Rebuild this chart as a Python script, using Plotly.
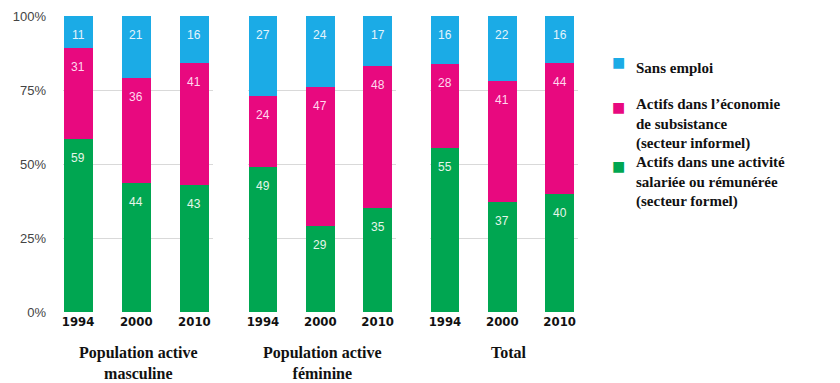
import plotly.graph_objects as go

# Répartition de la population active (%), par groupe et par année
years = ["1994", "2000", "2010"]
groups = ["Population active<br>masculine", "Population active<br>féminine", "Total"]

formel = [[59, 44, 43], [49, 29, 35], [55, 37, 40]]
informel = [[31, 36, 41], [24, 47, 48], [28, 41, 44]]
sans_emploi = [[11, 21, 16], [27, 24, 17], [16, 22, 16]]

series_names = [
    "Actifs dans une activité<br>salariée ou rémunérée<br>(secteur formel)",
    "Actifs dans l’économie<br>de subsistance<br>(secteur informel)",
    "Sans emploi",
]
series_data = [formel, informel, sans_emploi]
colors = ["#00a651", "#e8097f", "#1babe6"]
label_colors = ["#e6f5ea", "#ffd9ee", "#e3f4fc"]
y_ticks = ["0%", "25%", "50%", "75%", "100%"]

SERIF = "Liberation Serif"
SANS = "Liberation Sans"
COND = "DejaVu Sans Condensed"

W, H = 840, 383
TOP, BOTTOM = 16, 312
panel_px = [(63, 213), (248, 396), (430, 578)]
xrange_ = [-0.26, 2.32]


def py(yp):
    return (BOTTOM - yp) / (BOTTOM - TOP)


fig = go.Figure()
layout_axes = {}

for p in range(3):
    sfx = "" if p == 0 else str(p + 1)
    xa, ya = "x" + sfx, "y" + sfx
    totals = [sum(s[p][i] for s in series_data) for i in range(3)]
    cum = [0.0, 0.0, 0.0]
    for s, (data, col) in enumerate(zip(series_data, colors)):
        vals = data[p]
        fig.add_trace(go.Bar(
            x=[0, 1, 2], y=vals, xaxis=xa, yaxis=ya, width=0.5,
            marker=dict(color=col, line=dict(width=0)), showlegend=False,
        ))
        for i, v in enumerate(vals):
            cum[i] += v / totals[i] * 100
            fig.add_annotation(
                x=i, y=cum[i], xref=xa, yref=ya, text=str(v), showarrow=False,
                yanchor="top", yshift=-10,
                font=dict(family=SANS, size=12, color=label_colors[s]),
            )
    x0, x1 = panel_px[p]
    layout_axes["xaxis" + sfx] = dict(
        domain=[x0 / W, x1 / W], range=xrange_, anchor=ya,
        tickmode="array", tickvals=[0, 1, 2], ticktext=[f"<b>{y}</b>" for y in years],
        tickfont=dict(family=COND, size=13, color="#111"),
        showgrid=False, zeroline=False, showline=False, ticks="",
    )
    layout_axes["yaxis" + sfx] = dict(
        domain=[0, 1], range=[0, 100], anchor=xa,
        tickmode="array", tickvals=[0, 25, 50, 75, 100], ticktext=y_ticks,
        showticklabels=(p == 0), ticklabelstandoff=16,
        tickfont=dict(family=SANS, size=13, color="#444"),
        showgrid=True, gridcolor="#d9d9d9", gridwidth=1,
        zeroline=False, showline=False, ticks="",
    )
    # titre du groupe sous les années
    fig.add_annotation(
        x=(x0 + x1) / 2 / W + (0.006 if p == 2 else 0), y=py(342),
        xref="paper", yref="paper", text=f"<b>{groups[p]}</b>", showarrow=False,
        yanchor="top", xanchor="center", align="center",
        font=dict(family=SERIF, size=16, color="#111"),
    )

# légende : carrés de couleur et libellés
legend_items = [(2, 62, 67), (1, 107, 103), (0, 166, 161)]
for s, sq_y, txt_y in legend_items:
    fig.add_annotation(
        x=618.5 / W, y=py(sq_y), xref="paper", yref="paper", text="■",
        showarrow=False, xanchor="center", yanchor="middle",
        font=dict(family="DejaVu Sans", size=14, color=colors[s]),
    )
    fig.add_annotation(
        x=634 / W, y=py(txt_y - 9), xref="paper", yref="paper",
        text=f"<b>{series_names[s]}</b>", showarrow=False, xanchor="left", yanchor="top",
        align="left",
        font=dict(family=SERIF, size=15, color="#111"),
    )

fig.update_layout(
    width=W, height=H, barmode="stack", barnorm="percent",
    margin=dict(l=0, r=0, t=TOP, b=H - BOTTOM),
    plot_bgcolor="white",
    showlegend=False,
    **layout_axes,
)

fig.write_html("out.html")
